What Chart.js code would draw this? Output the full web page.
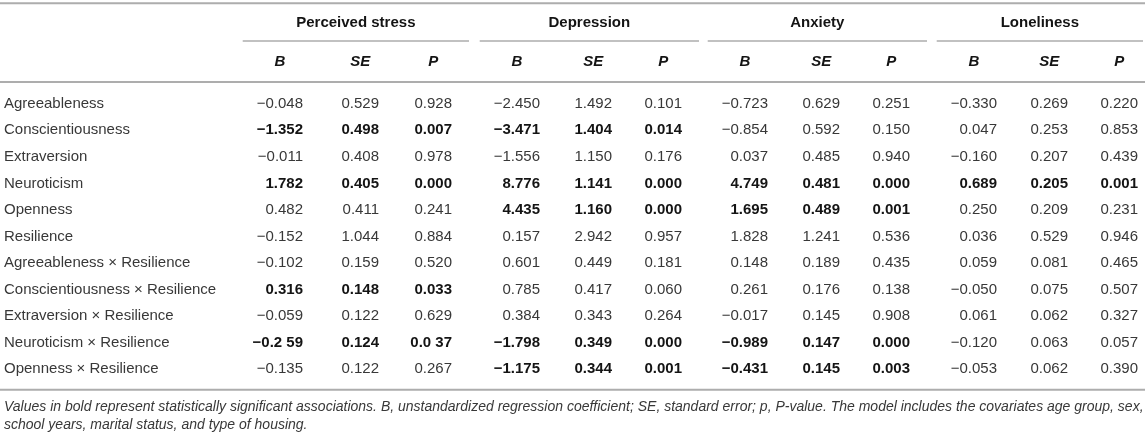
<!DOCTYPE html>
<html>
<head>
<meta charset="utf-8">
<script src="https://cdn.jsdelivr.net/npm/chart.js@4"></script>
<style>
  html, body { margin: 0; padding: 0; background: #fff; }
  #wrap { width: 1145px; height: 439px; position: relative; }
</style>
</head>
<body>
<div id="wrap"><canvas id="tbl"></canvas></div>
<script>
/* regression table drawn on a Chart.js scatter: each cell is an invisible point */

const ROW_LABELS = [
  'Agreeableness', 'Conscientiousness', 'Extraversion', 'Neuroticism', 'Openness', 'Resilience',
  'Agreeableness × Resilience', 'Conscientiousness × Resilience', 'Extraversion × Resilience',
  'Neuroticism × Resilience', 'Openness × Resilience',
];
const OUTCOMES = ['Perceived stress', 'Depression', 'Anxiety', 'Loneliness'];
const STATS = ['B', 'SE', 'P'];

const PS_B = ['−0.048', '−1.352', '−0.011', '1.782', '0.482', '−0.152', '−0.102', '0.316', '−0.059', '−0.2 59', '−0.135'];
const PS_SE = ['0.529', '0.498', '0.408', '0.405', '0.411', '1.044', '0.159', '0.148', '0.122', '0.124', '0.122'];
const PS_P = ['0.928', '0.007', '0.978', '0.000', '0.241', '0.884', '0.520', '0.033', '0.629', '0.0 37', '0.267'];
const DEP_B = ['−2.450', '−3.471', '−1.556', '8.776', '4.435', '0.157', '0.601', '0.785', '0.384', '−1.798', '−1.175'];
const DEP_SE = ['1.492', '1.404', '1.150', '1.141', '1.160', '2.942', '0.449', '0.417', '0.343', '0.349', '0.344'];
const DEP_P = ['0.101', '0.014', '0.176', '0.000', '0.000', '0.957', '0.181', '0.060', '0.264', '0.000', '0.001'];
const ANX_B = ['−0.723', '−0.854', '0.037', '4.749', '1.695', '1.828', '0.148', '0.261', '−0.017', '−0.989', '−0.431'];
const ANX_SE = ['0.629', '0.592', '0.485', '0.481', '0.489', '1.241', '0.189', '0.176', '0.145', '0.147', '0.145'];
const ANX_P = ['0.251', '0.150', '0.940', '0.000', '0.001', '0.536', '0.435', '0.138', '0.908', '0.000', '0.003'];
const LON_B = ['−0.330', '0.047', '−0.160', '0.689', '0.250', '0.036', '0.059', '−0.050', '0.061', '−0.120', '−0.053'];
const LON_SE = ['0.269', '0.253', '0.207', '0.205', '0.209', '0.529', '0.081', '0.075', '0.062', '0.063', '0.062'];
const LON_P = ['0.220', '0.853', '0.439', '0.001', '0.231', '0.946', '0.465', '0.507', '0.327', '0.057', '0.390'];

// rows printed in bold (significant), per outcome
const PS_BOLD = [1, 3, 7, 9];
const DEP_BOLD = [1, 3, 4, 9, 10];
const ANX_BOLD = [3, 4, 9, 10];
const LON_BOLD = [3];

const FOOTNOTE = [
  'Values in bold represent statistically significant associations. B, unstandardized regression coefficient; SE, standard error; p, P-value. The model includes the covariates age group, sex,',
  'school years, marital status, and type of housing.',
];

// layout: right edge of each value column, and y positions of the non-data rows (in row units)
const COL_RIGHT = [303, 379, 452, 540, 612, 682, 768, 840, 910, 997, 1068, 1138];
const Y_TOP_RULE = -3.79, Y_GROUP = -3.05, Y_GROUP_RULE = -2.37, Y_STAT = -1.58, Y_HEAD_RULE = -0.82;
const Y_BOTTOM_RULE = 10.78, Y_NOTE = [11.42, 12.1];

const FONT = "'Liberation Sans', Arial, Helvetica, sans-serif";
const INK = '#383838';
const INK_BOLD = '#141414';
const RULE = '#adadad';

const columns = [
  [PS_B, PS_SE, PS_P], [DEP_B, DEP_SE, DEP_P], [ANX_B, ANX_SE, ANX_P], [LON_B, LON_SE, LON_P],
];
const bolds = [PS_BOLD, DEP_BOLD, ANX_BOLD, LON_BOLD];

const datasets = [];
columns.forEach((group, g) => {
  group.forEach((vals, s) => {
    const j = g * 3 + s;
    datasets.push({
      label: OUTCOMES[g] + ' ' + STATS[s],
      data: vals.map((v, i) => ({ x: COL_RIGHT[j], y: i })),
      texts: vals,
      boldRows: bolds[g],
      stat: s,
      pointRadius: 0,
      pointHoverRadius: 0,
    });
  });
});

function hline(ctx, x0, x1, y, w, color) {
  ctx.save();
  ctx.strokeStyle = color;
  ctx.lineWidth = w;
  ctx.beginPath();
  ctx.moveTo(x0, y);
  ctx.lineTo(x1, y);
  ctx.stroke();
  ctx.restore();
}

const tablePlugin = {
  id: 'tableText',
  afterDatasetsDraw(chart) {
    const { ctx, scales: { x, y } } = chart;
    const left = x.getPixelForValue(0);
    const right = x.getPixelForValue(1145);

    // full-width rules
    hline(ctx, left, right, y.getPixelForValue(Y_TOP_RULE), 2, RULE);
    hline(ctx, left, right, y.getPixelForValue(Y_HEAD_RULE), 2, RULE);
    hline(ctx, left, right, y.getPixelForValue(Y_BOTTOM_RULE), 2, RULE);

    ctx.save();
    ctx.textBaseline = 'middle';

    // row labels
    ctx.font = '15px ' + FONT;
    ctx.fillStyle = INK;
    ctx.textAlign = 'left';
    ROW_LABELS.forEach((lab, i) => ctx.fillText(lab, left + 4, y.getPixelForValue(i)));

    // widths used to centre headers over right-aligned numbers
    ctx.font = '15px ' + FONT;
    const wNeg = ctx.measureText('−0.000').width;
    const wPos = ctx.measureText('0.000').width;

    // cells
    chart.data.datasets.forEach((ds, d) => {
      const meta = chart.getDatasetMeta(d);
      ctx.textAlign = 'right';
      meta.data.forEach((pt, i) => {
        const bold = ds.boldRows.includes(i);
        ctx.font = (bold ? 'bold ' : '') + '15px ' + FONT;
        ctx.fillStyle = bold ? INK_BOLD : INK;
        ctx.fillText(ds.texts[i], pt.x, pt.y);
      });
      // stat header
      const xr = meta.data[0].x;
      const cx = xr - (ds.stat === 0 ? wNeg : wPos) / 2;
      ctx.font = 'italic bold 15px ' + FONT;
      ctx.fillStyle = INK_BOLD;
      ctx.textAlign = 'center';
      ctx.fillText(STATS[ds.stat], cx, y.getPixelForValue(Y_STAT));
    });

    // group headers with underlines
    OUTCOMES.forEach((name, g) => {
      const x0 = chart.getDatasetMeta(g * 3).data[0].x - wNeg - 14;
      const x1 = Math.min(chart.getDatasetMeta(g * 3 + 2).data[0].x + 17, right - 2);
      hline(ctx, x0, x1, y.getPixelForValue(Y_GROUP_RULE), 1.5, RULE);
      ctx.font = 'bold 15px ' + FONT;
      ctx.fillStyle = INK_BOLD;
      ctx.textAlign = 'center';
      ctx.fillText(name, (x0 + x1) / 2, y.getPixelForValue(Y_GROUP));
    });

    // footnote
    ctx.font = 'italic 14px ' + FONT;
    ctx.fillStyle = INK;
    ctx.textAlign = 'left';
    FOOTNOTE.forEach((t, k) => ctx.fillText(t, left + 4, y.getPixelForValue(Y_NOTE[k])));

    ctx.restore();
  },
};

new Chart(document.getElementById('tbl'), {
  type: 'scatter',
  data: { datasets },
  options: {
    responsive: true,
    maintainAspectRatio: false,
    animation: false,
    layout: { padding: { top: 3, bottom: 1, left: 0, right: 0 } },
    plugins: { legend: { display: false }, tooltip: { enabled: false } },
    scales: {
      x: { type: 'linear', min: 0, max: 1145, display: false },
      y: { type: 'linear', reverse: true, min: -3.8, max: 12.6, display: false },
    },
  },
  plugins: [tablePlugin],
});
</script>
</body>
</html>
